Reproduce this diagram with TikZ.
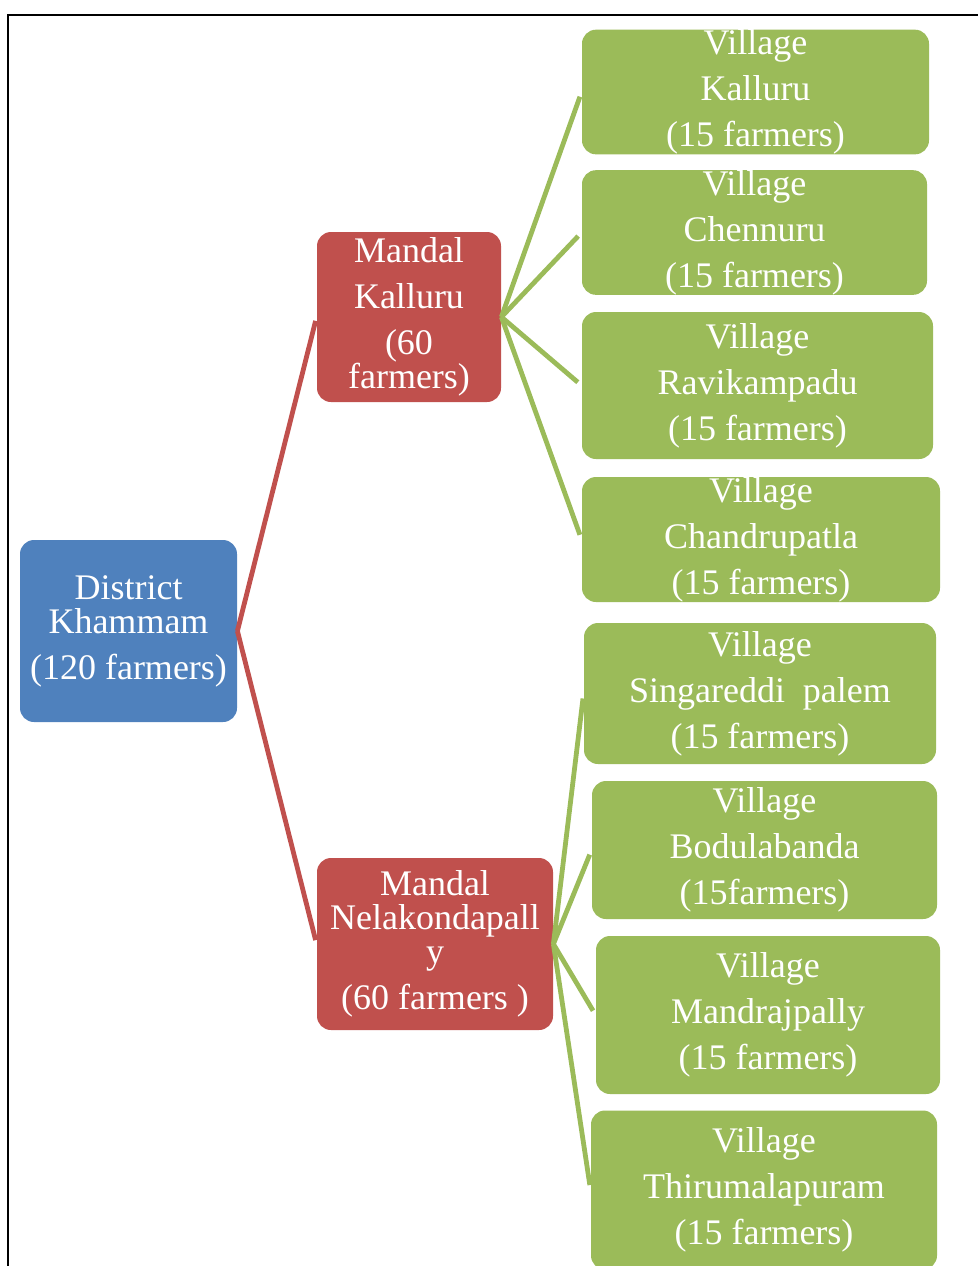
\documentclass[tikz,border=0pt]{standalone}
\usepackage{fontspec}
\setmainfont{Liberation Serif}
\usepackage{tikz}
\usetikzlibrary{positioning,calc}

\definecolor{distblue}{HTML}{4F81BD}
\definecolor{mandred}{HTML}{C0504D}
\definecolor{villgreen}{HTML}{9BBB59}

\begin{document}
\begin{tikzpicture}[
        x=0.5pt, y=-0.5pt,
        every node/.style={font=\fontsize{18}{23}\selectfont, text=white, align=center, inner sep=0pt},
        district/.style={rectangle, fill=distblue, rounded corners=7pt},
        mandal/.style={rectangle, fill=mandred, rounded corners=7pt},
        village/.style={rectangle, fill=villgreen, rounded corners=7pt},
        redlink/.style={draw=mandred, line width=2.4pt, shorten >=2pt},
        greenlink/.style={draw=villgreen, line width=2.4pt, shorten >=2.5pt}
        ]
        \useasboundingbox (0,0) rectangle (978,1266);

        % Page frame (left and top edges only show)
        \draw[black, line width=1pt] (8,1280) -- (8,15) -- (990,15);

        % District
        \node[district, minimum width=108.5pt, minimum height=91pt] (dist) at (128.5,631) {District\\[-6pt]Khammam\\(120 farmers)};

        % Mandals
        \node[mandal, minimum width=92pt, minimum height=85pt] (mkal) at (409,317) {Mandal\\Kalluru\\(60\\[-6pt]farmers)};
        \node[mandal, minimum width=118pt, minimum height=86pt] (mnel) at (435,944) {Mandal\\[-6pt]Nelakondapall\\[-6pt]y\\(60 farmers )};

        % Villages of Mandal Kalluru
        \node[village, minimum width=173.5pt, minimum height=61pt] (v1) at (755.5,92) {Village\\Kalluru\\(15 farmers)};
        \node[village, minimum width=172.5pt, minimum height=61.5pt] (v2) at (754.5,232.5) {Village\\Chennuru\\(15 farmers)};
        \node[village, minimum width=175.5pt, minimum height=73.5pt] (v3) at (757.5,385.5) {Village\\Ravikampadu\\(15 farmers)};
        \node[village, minimum width=179pt, minimum height=62.5pt] (v4) at (761,539.5) {Village\\Chandrupatla\\(15 farmers)};

        % Villages of Mandal Nelakondapally
        \node[village, minimum width=176pt, minimum height=70.5pt] (v5) at (760,693.5) {Village\\Singareddi~ palem\\(15 farmers)};
        \node[village, minimum width=172.5pt, minimum height=69pt] (v6) at (764.5,850) {Village\\Bodulabanda\\(15farmers)};
        \node[village, minimum width=172pt, minimum height=79pt] (v7) at (768,1015) {Village\\Mandrajpally\\(15 farmers)};
        \node[village, minimum width=173pt, minimum height=79.5pt] (v8) at (764,1190) {Village\\Thirumalapuram\\(15 farmers)};

        % Connections
        \draw[redlink] (dist.east) -- (mkal.west);
        \draw[redlink] (dist.east) -- (mnel.west);
        \foreach \v in {v1,v2,v3,v4}
            \draw[greenlink] (mkal.east) -- (\v.west);
        \foreach \v in {v5,v6,v7,v8}
            \draw[greenlink] (mnel.east) -- (\v.west);

    \end{tikzpicture}
\end{document}
